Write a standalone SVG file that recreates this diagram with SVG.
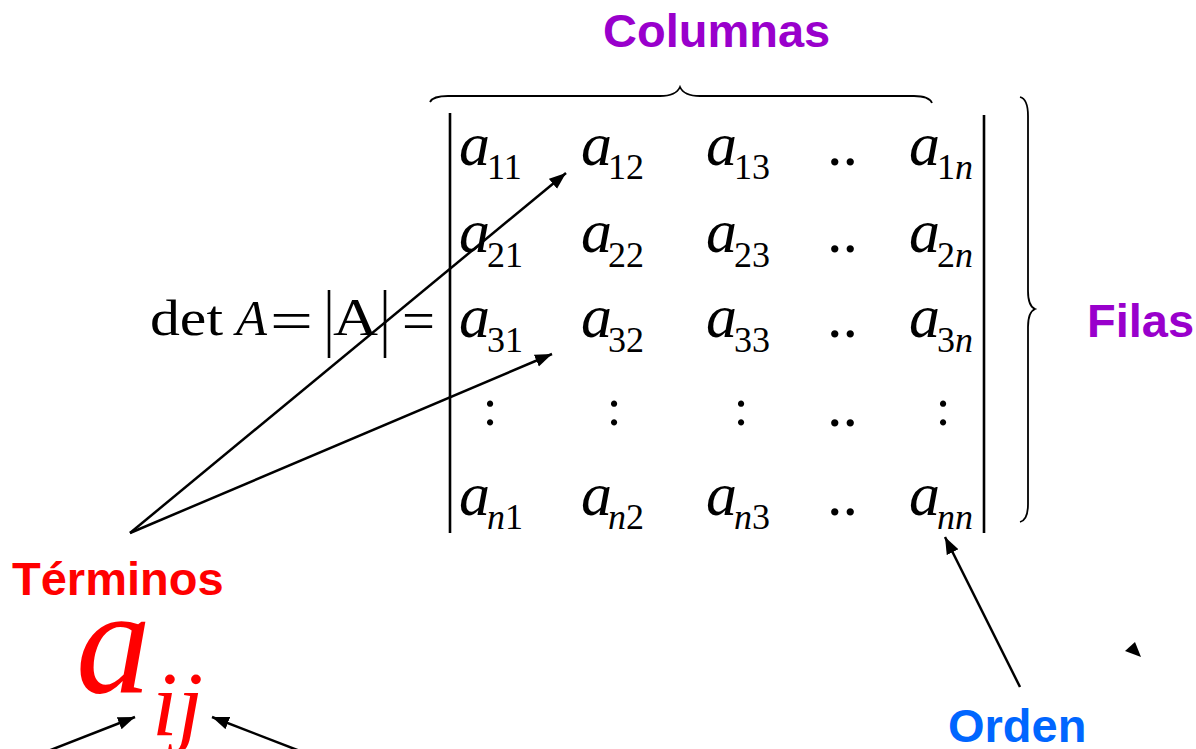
<svg xmlns="http://www.w3.org/2000/svg" width="1196" height="749" viewBox="0 0 1196 749">
<style>
.lbl{font-family:"Liberation Sans",Arial,sans-serif;font-weight:bold;font-size:47px}
.ma{font-family:"Liberation Serif","Times New Roman",serif;font-style:italic;font-size:62px;fill:#000}
.sub{font-family:"Liberation Serif","Times New Roman",serif;font-size:36px;fill:#000}
.it{font-style:italic}
.dt{font-family:"Liberation Serif","Times New Roman",serif;font-size:62px;fill:#000}
.cl{font-family:"Liberation Serif","Times New Roman",serif;font-size:53px;fill:#000;text-anchor:middle}
.eq{font-family:"Liberation Serif","Times New Roman",serif;fill:#000}
.bar{stroke:#000;stroke-width:2.6;fill:none}
.brace{stroke:#000;stroke-width:1.8;fill:none}
.conn{stroke:#000;stroke-width:2.5;fill:none;marker-end:url(#ah)}
</style>
<defs>
<marker id="ah" markerUnits="userSpaceOnUse" markerWidth="18" markerHeight="14" refX="17" refY="6.5" orient="auto">
<path d="M0,0 L17,6.5 L0,13 z" fill="#000"/>
</marker>
</defs>

<g id="columnas"><text class="lbl" x="603" y="47" fill="#9900CC">Columnas</text></g>
<g id="filas"><text class="lbl" x="1087" y="337" fill="#9900CC">Filas</text></g>
<g id="terminos"><text class="lbl" x="12" y="595" fill="#FF0000">Términos</text></g>
<g id="orden"><text class="lbl" x="948" y="742" fill="#0066FF">Orden</text></g>

<g id="braces">
<path class="brace" d="M430,102 Q433,96 448,96 L660,96 Q676,96 680,87 Q684,96 700,96 L914,96 Q929,96 932,103"/>
<path class="brace" d="M1020,97 Q1028,99 1028,116 L1028,291 Q1028,306 1035,309 Q1028,312 1028,327 L1028,504 Q1028,520 1020,522"/>
</g>

<g id="determinant">
<text class="eq" x="150" y="335" font-size="50" textLength="73" lengthAdjust="spacingAndGlyphs">det</text>
<text class="eq" x="236" y="335" font-size="50" font-style="italic" textLength="31" lengthAdjust="spacingAndGlyphs">A</text>
<text class="eq" x="270" y="340" font-size="58" textLength="43" lengthAdjust="spacingAndGlyphs">=</text>
<line class="bar" x1="329" y1="290" x2="329" y2="358"/>
<text class="eq" x="333" y="335" font-size="52" textLength="45" lengthAdjust="spacingAndGlyphs">A</text>
<line class="bar" x1="385" y1="290" x2="385" y2="358"/>
<text class="eq" x="402" y="340" font-size="58" textLength="33" lengthAdjust="spacingAndGlyphs">=</text>
</g>

<g id="matrix">
<line class="bar" x1="450" y1="113" x2="450" y2="533"/>
<line class="bar" x1="984" y1="115" x2="984" y2="533"/>
<!-- row 1 -->
<text class="ma" x="459" y="165">a</text><text class="sub" x="487" y="179">11</text>
<text class="ma" x="581" y="165">a</text><text class="sub" x="608" y="179">12</text>
<text class="ma" x="706" y="165">a</text><text class="sub" x="734" y="179">13</text>
<text class="dt" x="827" y="165">..</text>
<text class="ma" x="909" y="165">a</text><text class="sub" x="937" y="179">1<tspan class="it">n</tspan></text>
<!-- row 2 -->
<text class="ma" x="459" y="252">a</text><text class="sub" x="487" y="267">21</text>
<text class="ma" x="581" y="252">a</text><text class="sub" x="608" y="267">22</text>
<text class="ma" x="706" y="252">a</text><text class="sub" x="734" y="267">23</text>
<text class="dt" x="827" y="252">..</text>
<text class="ma" x="909" y="252">a</text><text class="sub" x="937" y="267">2<tspan class="it">n</tspan></text>
<!-- row 3 -->
<text class="ma" x="459" y="337">a</text><text class="sub" x="487" y="352">31</text>
<text class="ma" x="581" y="337">a</text><text class="sub" x="608" y="352">32</text>
<text class="ma" x="706" y="337">a</text><text class="sub" x="734" y="352">33</text>
<text class="dt" x="827" y="337">..</text>
<text class="ma" x="909" y="337">a</text><text class="sub" x="937" y="352">3<tspan class="it">n</tspan></text>
<!-- row dots -->
<text class="cl" x="490" y="425">:</text>
<text class="cl" x="614" y="425">:</text>
<text class="cl" x="741" y="425">:</text>
<text class="dt" x="827" y="426">..</text>
<text class="cl" x="943" y="425">:</text>
<!-- row n -->
<text class="ma" x="459" y="515">a</text><text class="sub" x="487" y="529"><tspan class="it">n</tspan>1</text>
<text class="ma" x="581" y="515">a</text><text class="sub" x="608" y="529"><tspan class="it">n</tspan>2</text>
<text class="ma" x="706" y="515">a</text><text class="sub" x="734" y="529"><tspan class="it">n</tspan>3</text>
<text class="dt" x="827" y="515">..</text>
<text class="ma" x="909" y="515">a</text><text class="sub it" x="937" y="529" fill="#0000FF">nn</text>
</g>

<g id="aij">
<text x="76" y="692" font-family="Liberation Serif, Times New Roman, serif" font-style="italic" font-size="150" fill="#FF0000">a</text>
<text x="152" y="735" font-family="Liberation Serif, Times New Roman, serif" font-style="italic" font-size="92" fill="#FF0000">ij</text>
</g>

<g id="connectors">
<line class="conn" x1="130" y1="533" x2="566" y2="173"/>
<line class="conn" x1="130" y1="533" x2="552" y2="354"/>
<line class="conn" x1="1020" y1="687" x2="945" y2="537"/>
<line class="conn" x1="48" y1="751" x2="135" y2="717"/>
<line class="conn" x1="300" y1="751" x2="212" y2="717"/>
<polygon points="1135,642 1125,651 1141,657" fill="#000"/>
</g>
</svg>
